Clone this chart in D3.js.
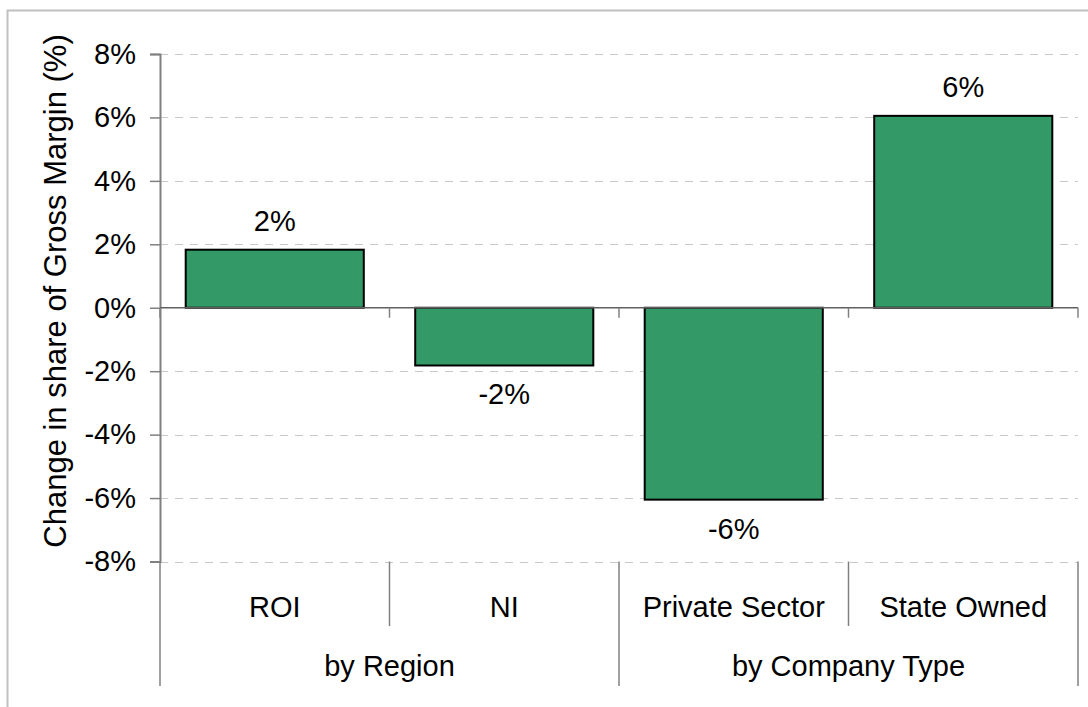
<!DOCTYPE html>
<html>
<head>
<meta charset="utf-8">
<script src="https://cdn.jsdelivr.net/npm/d3@7"></script>
<style>
	body { margin: 0; background: #ffffff; }
	text { font-family: "Liberation Sans", Arial, sans-serif; fill: #000000; }
</style>
</head>
<body>
<div id="chart"></div>
<script>
var categories = ['ROI', 'NI', 'Private Sector', 'State Owned'];
var groupNames = ['by Region', 'by Company Type'];
var values = [1.83, -1.82, -6.05, 6.05];
var valueLabels = ['2%', '-2%', '-6%', '6%'];
var yTicks = [-8, -6, -4, -2, 0, 2, 4, 6, 8];

var width = 1088,
	height = 707;

var svg = d3.select('#chart').append('svg')
	.attr('width', width)
	.attr('height', height);

// outer frame
svg.append('rect')
	.attr('x', 7.5)
	.attr('y', 10.5)
	.attr('width', 1100)
	.attr('height', 720)
	.style('fill', 'none')
	.style('stroke', '#c0c0c0')
	.style('stroke-width', 2);

var margin = { left: 160, right: 1078, top: 54, bottom: 561.5 };

var x = d3.scaleBand()
	.domain(categories)
	.range([margin.left, margin.right])
	.paddingInner(0.224)
	.paddingOuter(0.112);

var y = d3.scaleLinear()
	.domain([-8, 8])
	.range([margin.bottom, margin.top]);

var step = x.step();

// gridlines
svg.append('g')
	.selectAll('line')
	.data(yTicks.filter(d => d !== 0))
	.enter()
	.append('line')
	.attr('x1', margin.left)
	.attr('x2', margin.right)
	.attr('y1', d => Math.round(y(d)) + 0.5)
	.attr('y2', d => Math.round(y(d)) + 0.5)
	.style('stroke', '#c8c8c8')
	.style('stroke-width', 1)
	.style('stroke-dasharray', '8,7');

// y axis
var yAxis = svg.append('g')
	.attr('transform', 'translate(' + margin.left + ',0)')
	.call(d3.axisLeft(y).tickValues(yTicks).tickSize(10).tickPadding(14).tickFormat(d => d + '%'));

yAxis.select('.domain').style('stroke', '#808080').style('stroke-width', 2);
yAxis.selectAll('.tick line').style('stroke', '#808080').style('stroke-width', 1.5);
yAxis.selectAll('.tick text')
	.style('font-family', '"Liberation Sans", Arial, sans-serif')
	.style('font-size', '29px')
	.style('fill', '#000');

// bars
svg.append('g')
	.selectAll('rect')
	.data(values)
	.enter()
	.append('rect')
	.attr('x', (d, i) => x(categories[i]))
	.attr('width', x.bandwidth())
	.attr('y', d => y(Math.max(0, d)))
	.attr('height', d => Math.abs(y(d) - y(0)))
	.style('fill', '#339966')
	.style('stroke', '#000000')
	.style('stroke-width', 2);

// zero line and ticks
svg.append('line')
	.attr('x1', margin.left)
	.attr('x2', margin.right)
	.attr('y1', y(0))
	.attr('y2', y(0))
	.style('stroke', '#606060')
	.style('stroke-width', 1.5);

svg.append('g')
	.selectAll('line')
	.data(d3.range(categories.length + 1))
	.enter()
	.append('line')
	.attr('x1', i => margin.left + i * step)
	.attr('x2', i => margin.left + i * step)
	.attr('y1', y(0))
	.attr('y2', y(0) + 10)
	.style('stroke', '#808080')
	.style('stroke-width', 1.5);

// value labels
svg.append('g')
	.selectAll('text')
	.data(values)
	.enter()
	.append('text')
	.attr('x', (d, i) => x(categories[i]) + x.bandwidth() / 2)
	.attr('y', d => d >= 0 ? y(d) - 19 : y(d) + 39)
	.attr('text-anchor', 'middle')
	.style('font-size', '29px')
	.text((d, i) => valueLabels[i]);

// category dividers below the plot
svg.append('g')
	.selectAll('line')
	.data(d3.range(categories.length + 1))
	.enter()
	.append('line')
	.attr('x1', i => margin.left + i * step)
	.attr('x2', i => margin.left + i * step)
	.attr('y1', margin.bottom)
	.attr('y2', i => i % 2 === 0 ? 686 : 626)
	.style('stroke', '#808080')
	.style('stroke-width', 1.5);

// category labels
svg.append('g')
	.selectAll('text')
	.data(categories)
	.enter()
	.append('text')
	.attr('x', d => x(d) + x.bandwidth() / 2)
	.attr('y', 617)
	.attr('text-anchor', 'middle')
	.style('font-size', '29px')
	.text(d => d);

// group labels
svg.append('g')
	.selectAll('text')
	.data(groupNames)
	.enter()
	.append('text')
	.attr('x', (d, i) => margin.left + step * (2 * i + 1))
	.attr('y', 676)
	.attr('text-anchor', 'middle')
	.style('font-size', '29px')
	.text(d => d);

// y axis title
svg.append('text')
	.attr('transform', 'translate(66,291) rotate(-90)')
	.attr('text-anchor', 'middle')
	.style('font-size', '31px')
	.text('Change in share of Gross Margin (%)');
</script>
</body>
</html>
